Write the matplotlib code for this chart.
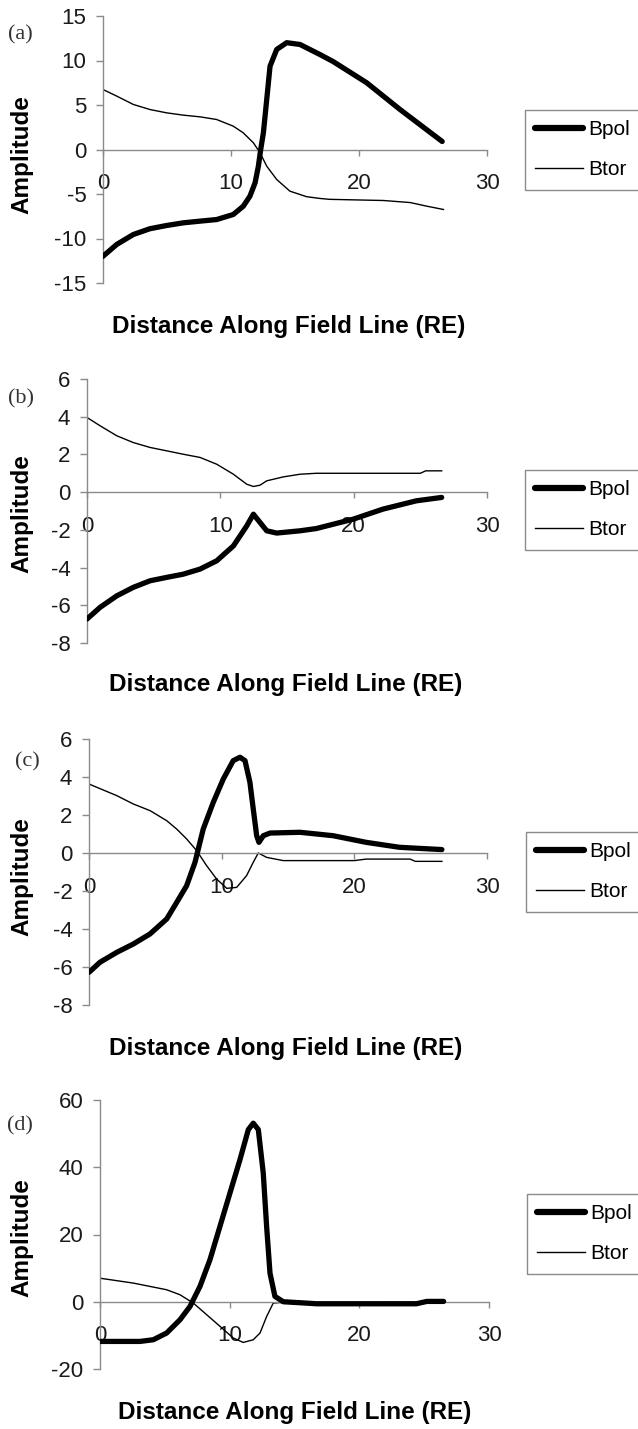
import numpy as np
import matplotlib
matplotlib.use('Agg')
import matplotlib.pyplot as plt

plt.rcParams['font.family'] = ['Liberation Sans', 'DejaVu Sans']
plt.rcParams['axes.unicode_minus'] = False

# ---- panel (a) ----
a_bpol_x = [0, 1.07, 2.37, 3.67, 4.97, 6.27, 7.58, 8.88, 10.18, 10.96, 11.48, 11.88, 12.14,
            12.32, 12.53, 12.79, 13.05, 13.57, 14.35, 15.39, 16.95, 17.97, 20.6, 23.2, 26.5]
a_bpol_y = [-12.0, -10.67, -9.55, -8.9, -8.54, -8.24, -8.05, -7.87, -7.3, -6.37, -5.24, -3.75, -1.87,
            0.0, 1.87, 5.6, 9.36, 11.24, 12.0, 11.8, 10.67, 9.89, 7.5, 4.5, 0.9]
a_btor_x = [0, 1.07, 2.37, 3.67, 4.97, 6.27, 7.58, 8.88, 10.18, 10.96, 11.75, 12.27, 12.79,
            13.57, 14.6, 15.9, 16.95, 17.7, 21.9, 24.0, 25.3, 26.6]
a_btor_y = [6.74, 6.0, 5.06, 4.49, 4.12, 3.86, 3.67, 3.37, 2.62, 1.87, 0.75, -0.37, -1.87,
            -3.37, -4.68, -5.3, -5.5, -5.6, -5.73, -5.96, -6.37, -6.74]

# ---- panel (b) ----
b_bpol_x = [0, 0.98, 2.23, 3.47, 4.73, 5.98, 7.22, 8.48, 9.73, 10.98, 11.98, 12.48, 12.98,
            13.48, 14.23, 15.98, 17.2, 19.98, 22.2, 24.7, 26.6]
b_bpol_y = [-6.73, -6.11, -5.5, -5.05, -4.7, -4.52, -4.35, -4.08, -3.64, -2.85, -1.79, -1.17, -1.61,
            -2.05, -2.17, -2.05, -1.93, -1.43, -0.9, -0.46, -0.28]
b_btor_x = [0, 0.98, 2.23, 3.47, 4.73, 5.98, 7.22, 8.48, 9.73, 10.98, 11.98, 12.48, 12.98,
            13.48, 14.73, 15.98, 17.2, 25.0, 25.4, 26.6]
b_btor_y = [3.96, 3.52, 2.99, 2.63, 2.37, 2.19, 2.01, 1.84, 1.48, 0.95, 0.42, 0.3, 0.37,
            0.6, 0.81, 0.95, 1.0, 1.0, 1.13, 1.13]

# ---- panel (c) ----
c_bpol_x = [0, 0.83, 2.09, 3.34, 4.6, 5.86, 6.61, 7.36, 7.99, 8.61, 9.37, 10.12, 10.87, 11.38,
            11.76, 12.13, 12.38, 12.64, 12.81, 13.14, 13.64, 15.9, 17.16, 18.4, 20.9, 23.4, 26.6]
c_bpol_y = [-6.28, -5.75, -5.23, -4.79, -4.26, -3.47, -2.6, -1.72, -0.49, 1.26, 2.67, 3.89, 4.86, 5.04,
            4.86, 3.72, 2.32, 0.91, 0.56, 0.91, 1.05, 1.09, 1.0, 0.91, 0.56, 0.30, 0.18]
c_btor_x = [0, 2.09, 3.34, 4.6, 5.86, 6.61, 7.36, 8.12, 8.87, 9.62, 10.38, 11.13, 11.88, 12.38,
            12.76, 13.39, 14.64, 20.0, 20.9, 24.2, 24.6, 26.6]
c_btor_y = [3.63, 3.02, 2.58, 2.23, 1.70, 1.26, 0.74, 0.12, -0.67, -1.37, -1.86, -1.81, -1.19, -0.49,
            0.0, -0.23, -0.4, -0.4, -0.32, -0.32, -0.44, -0.44]

# ---- panel (d) ----
d_bpol_x = [0, 1.29, 3.08, 4.11, 5.14, 6.17, 6.94, 7.71, 8.48, 9.25, 10.02, 10.79, 11.44, 11.82,
            12.21, 12.59, 12.85, 13.11, 13.49, 14.13, 15.9, 16.7, 24.4, 25.2, 26.5]
d_bpol_y = [-11.8, -11.8, -11.8, -11.3, -9.3, -5.35, -1.4, 4.56, 12.5, 22.4, 32.3, 42.2, 51.2, 53.1,
            51.2, 38.3, 22.4, 8.5, 1.6, 0.0, -0.4, -0.6, -0.6, 0.1, 0.1]
d_btor_x = [0, 2.57, 5.14, 6.17, 7.2, 8.23, 9.25, 10.28, 11.05, 11.82, 12.34, 12.85, 13.36,
            14.0, 20.0, 26.5]
d_btor_y = [7.0, 5.55, 3.57, 2.08, -0.4, -3.87, -7.3, -10.8, -12.1, -11.3, -9.3, -4.4, -0.4,
            -0.2, -0.2, -0.1]

x_ticks = [0, 10, 20, 30]
W, H = 638, 1429

panels = [
    # label, bpol, btor, yticks, axes px (left, top, right, bottom), legend px (x, y),
    # ylabel y, xlabel (x, y), panel label (x, y)
    ('(a)', (a_bpol_x, a_bpol_y), (a_btor_x, a_btor_y), [-15, -10, -5, 0, 5, 10, 15],
     (103, 16, 487, 283), (525, 110), 155, (289, 327), (20, 35)),
    ('(b)', (b_bpol_x, b_bpol_y), (b_btor_x, b_btor_y), [-8, -6, -4, -2, 0, 2, 4, 6],
     (87, 379, 487, 643), (525, 470), 514, (286, 685), (21, 399)),
    ('(c)', (c_bpol_x, c_bpol_y), (c_btor_x, c_btor_y), [-8, -6, -4, -2, 0, 2, 4, 6],
     (89, 739, 487, 1005), (526, 832), 877, (286, 1048), (27, 762)),
    ('(d)', (d_bpol_x, d_bpol_y), (d_btor_x, d_btor_y), [-20, 0, 20, 40, 60],
     (100, 1100, 489, 1369), (527, 1194), 1238, (295, 1412), (20, 1126)),
]

fig = plt.figure(figsize=(W / 100, H / 100), dpi=100)

for lab, bpol, btor, yt, box, leg, ylab_y, xlab, plab in panels:
    l, t, r, b = box
    ax = fig.add_axes([l / W, 1 - b / H, (r - l) / W, (b - t) / H])
    ax.plot(bpol[0], bpol[1], color='black', lw=3.8, solid_capstyle='round',
            solid_joinstyle='round', label='Bpol', zorder=3)
    ax.plot(btor[0], btor[1], color='black', lw=1.0, label='Btor', zorder=2)
    ax.set_xlim(0, 30)
    ax.set_ylim(yt[0], yt[-1])
    ax.set_xticks(x_ticks)
    ax.set_yticks(yt)
    ax.spines['top'].set_visible(False)
    ax.spines['right'].set_visible(False)
    ax.spines['bottom'].set_position(('data', 0))
    for s in ('left', 'bottom'):
        ax.spines[s].set_color('#8a8a8a')
        ax.spines[s].set_linewidth(1.0)
    ax.tick_params(axis='y', direction='out', length=5, width=1, color='#8a8a8a',
                   pad=7, labelsize=16, labelcolor='#1a1a1a')
    ax.tick_params(axis='x', direction='out', length=4, width=1, color='#8a8a8a',
                   pad=13, labelsize=16, labelcolor='#1a1a1a')
    ax.patch.set_visible(False)

    lg = ax.legend(loc='upper left', bbox_to_anchor=(leg[0] / W, 1 - leg[1] / H),
                   bbox_transform=fig.transFigure, borderaxespad=0, fancybox=False,
                   edgecolor='#8a8a8a', framealpha=1, fontsize=15, handlelength=2.3,
                   handletextpad=0.25, labelspacing=1.0, borderpad=0.5)
    lg.get_frame().set_linewidth(1.0)
    lg.get_lines()[0].set_linewidth(4.5)

    fig.text(22 / W, 1 - ylab_y / H, 'Amplitude', rotation=90, ha='center', va='center',
             fontsize=17.5, fontweight='bold')
    fig.text(xlab[0] / W, 1 - xlab[1] / H, 'Distance Along Field Line (RE)', ha='center',
             va='center', fontsize=17.5, fontweight='bold')
    fig.text(plab[0] / W, 1 - plab[1] / H, lab, ha='center', va='center', fontsize=16,
             family=['Liberation Serif', 'DejaVu Serif'], color='#333333')

fig.savefig('out.png', dpi=100)
